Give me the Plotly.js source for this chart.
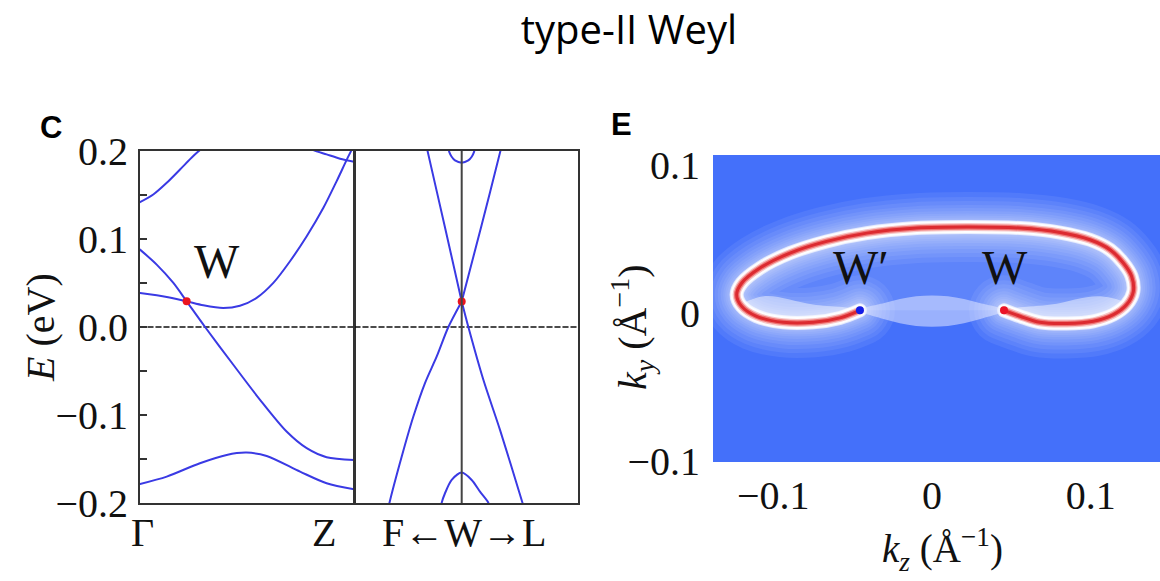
<!DOCTYPE html>
<html><head><meta charset="utf-8">
<script src="https://cdn.plot.ly/plotly-3.0.1.min.js"></script>
<style>html,body{margin:0;padding:0;background:#fff}#chart{width:1160px;height:581px}
#chart .js-line{stroke-linecap:round;stroke-linejoin:round}</style>
</head><body><div id="chart"></div>
<script>
// ---------- Panel C : Γ–Z path (k normalised 0..1), energies in eV ----------
const gzBand1K = [0, 0.062, 0.125, 0.187, 0.249, 0.280, 0.29];
const gzBand1E = [0.1416, 0.1503, 0.1636, 0.1787, 0.1939, 0.2007, 0.203];
const gzBand2K = [0, 0.078, 0.156, 0.218, 0.304, 0.436, 0.561, 0.685, 0.779, 0.872, 1.0];
const gzBand2E = [0.0878, 0.0708, 0.050, 0.0291, 0.0, -0.0428, -0.0826, -0.1186, -0.1375, -0.1477, -0.1508];
const gzBand3K = [0, 0.125, 0.218, 0.296, 0.389, 0.467, 0.545, 0.623, 0.701, 0.779, 0.857, 0.919, 0.989, 1.0];
const gzBand3E = [0.0386, 0.0341, 0.0291, 0.0246, 0.0216, 0.0242, 0.033, 0.050, 0.0746, 0.103, 0.1352, 0.1655, 0.2007, 0.204];
const gzBand4K = [0.79, 0.81, 0.872, 0.935, 1.0];
const gzBand4E = [0.203, 0.2007, 0.1958, 0.1909, 0.1875];
const gzBand5K = [0, 0.125, 0.280, 0.405, 0.498, 0.592, 0.748, 0.872, 1.0];
const gzBand5E = [-0.1781, -0.1697, -0.1545, -0.1451, -0.1425, -0.1463, -0.1641, -0.1773, -0.1841];
// ---------- Panel C : F <- W -> L path (W at 0) ----------
const fwlUpLeftK = [-0.33, -0.322, -0.159, 0];
const fwlUpLeftE = [0.205, 0.2007, 0.1143, 0.029];
const fwlUpRightK = [0, 0.184, 0.365, 0.373];
const fwlUpRightE = [0.029, 0.1143, 0.2007, 0.205];
const fwlLowLeftK = [0, -0.125, -0.234, -0.344, -0.453, -0.562, -0.678, -0.685];
const fwlLowLeftE = [0.029, 0.0, -0.0334, -0.0636, -0.1016, -0.147, -0.2, -0.204];
const fwlLowRightK = [0, 0.0625, 0.203, 0.359, 0.571, 0.58];
const fwlLowRightE = [0.029, 0.0, -0.0599, -0.1167, -0.2, -0.204];
const fwlTopK = [-0.125, -0.116, -0.094, -0.063, 0, 0.062, 0.094, 0.115, 0.124];
const fwlTopE = [0.204, 0.1984, 0.1932, 0.189, 0.1864, 0.189, 0.1932, 0.1984, 0.204];
const fwlBotK = [-0.195, -0.1874, -0.1565, -0.0937, 0, 0.0937, 0.1715, 0.249, 0.258];
const fwlBotE = [-0.205, -0.1993, -0.1886, -0.1735, -0.1652, -0.1735, -0.1868, -0.1993, -0.205];
const weylGZ = {k: [0.218], E: [0.0291]};
const weylFWL = {k: [0], E: [0.029]};
const pathLabels = ['Γ', 'Z', 'F←W→L'];

// ---------- Panel E : Fermi arc (kz, ky in 1/Å) ----------
const arcKz = [0.0454, 0.0555, 0.068, 0.0849, 0.1017, 0.1143, 0.1227, 0.1269, 0.1258, 0.1206, 0.1122, 0.0996, 0.0807, 0.0555, 0.0219, -0.0096, -0.0411, -0.0664, -0.0895, -0.1084, -0.1199, -0.1231, -0.1199, -0.1105, -0.0937, -0.0748, -0.058, -0.0454];
const arcKy = [0.002, -0.002, -0.0061, -0.0069, -0.0054, -0.0009, 0.0059, 0.0148, 0.025, 0.034, 0.043, 0.0497, 0.0546, 0.0576, 0.0583, 0.0576, 0.0542, 0.0486, 0.0407, 0.0306, 0.0205, 0.0126, 0.0047, -0.002, -0.0061, -0.0061, -0.0031, 0.002];
const lobeRKz = [0.0454, 0.0555, 0.068, 0.0849, 0.1017, 0.1143, 0.1227, 0.106, 0.075, 0.0454];
const lobeRKy = [0.002, -0.002, -0.0061, -0.0069, -0.0054, -0.0009, 0.0059, 0.0115, 0.0059, 0.002];
const lobeLKz = [-0.0454, -0.058, -0.0748, -0.0937, -0.1105, -0.1199, -0.106, -0.075, -0.0454];
const lobeLKy = [0.002, -0.0031, -0.0061, -0.0061, -0.002, 0.0047, 0.0115, 0.0059, 0.002];
const lensKz = [-0.0454, -0.03, -0.01, 0.01, 0.03, 0.0454, 0.03, 0.01, -0.01, -0.03, -0.0454];
const lensKy = [0.002, 0.007, 0.0115, 0.0115, 0.007, 0.002, -0.004, -0.0085, -0.0085, -0.004, 0.002];
const weylE = {kz: [-0.0454, 0.0454], ky: [0.002, 0.002], name: ['W′', 'W']};

const W = 1160, H = 581;
const px = x => x / W, py = y => 1 - y / H;
const serif = 'Liberation Serif, Times New Roman, serif';
const bandColor = 'rgb(58,58,228)';
const frame = '#333';

const traces = [];
function band(k, e, xa, ya) {
  traces.push({x: k, y: e, xaxis: xa, yaxis: ya, type: 'scatter', mode: 'lines',
    line: {color: bandColor, width: 2, shape: 'spline', smoothing: 0.8}, hoverinfo: 'skip'});
}
// Fermi level dashed lines
traces.push({x: [0, 1], y: [0, 0], xaxis: 'x', yaxis: 'y', mode: 'lines', line: {color: '#111', width: 1.5, dash: '5px,3px'}});
traces.push({x: [-1, 1.09], y: [0, 0], xaxis: 'x2', yaxis: 'y2', mode: 'lines', line: {color: '#111', width: 1.5, dash: '5px,3px'}});
band(gzBand1K, gzBand1E, 'x', 'y');
band(gzBand2K, gzBand2E, 'x', 'y');
band(gzBand3K, gzBand3E, 'x', 'y');
band(gzBand4K, gzBand4E, 'x', 'y');
band(gzBand5K, gzBand5E, 'x', 'y');
band(fwlUpLeftK, fwlUpLeftE, 'x2', 'y2');
band(fwlUpRightK, fwlUpRightE, 'x2', 'y2');
band(fwlLowLeftK, fwlLowLeftE, 'x2', 'y2');
band(fwlLowRightK, fwlLowRightE, 'x2', 'y2');
band(fwlTopK, fwlTopE, 'x2', 'y2');
band(fwlBotK, fwlBotE, 'x2', 'y2');
traces.push({x: weylGZ.k, y: weylGZ.E, xaxis: 'x', yaxis: 'y', mode: 'markers', marker: {color: 'rgb(235,20,30)', size: 8}});
traces.push({x: weylFWL.k, y: weylFWL.E, xaxis: 'x2', yaxis: 'y2', mode: 'markers', marker: {color: 'rgb(235,20,30)', size: 8}});

// Panel E layers
const arcLine = (w, c, op) => ({x: arcKz, y: arcKy, xaxis: 'x3', yaxis: 'y3', mode: 'lines', opacity: op,
  line: {color: c, width: w, shape: 'spline', smoothing: 1}, hoverinfo: 'skip'});
const fillPoly = (xs, ys, c) => ({x: xs, y: ys, xaxis: 'x3', yaxis: 'y3', mode: 'lines', fill: 'toself',
  fillcolor: c, line: {width: 0, shape: 'spline', smoothing: 1}, hoverinfo: 'skip'});
traces.push(fillPoly(arcKz, arcKy, 'rgba(255,255,255,0.14)'));
[70, 60, 52, 44, 38, 32, 27, 23, 19, 16].forEach(w => traces.push(arcLine(w, '#ffffff', 0.07)));
traces.push(arcLine(14, '#ffffff', 0.7));
traces.push(arcLine(12, '#ffffff', 0.9));
traces.push(fillPoly(lobeRKz, lobeRKy, 'rgba(255,255,255,0.45)'));
traces.push(fillPoly(lobeLKz, lobeLKy, 'rgba(255,255,255,0.45)'));
traces.push(fillPoly(lensKz, lensKy, 'rgba(225,232,255,0.55)'));
traces.push(arcLine(8, 'rgb(248,198,198)', 1));
traces.push(arcLine(5.5, 'rgb(238,115,115)', 1));
traces.push(arcLine(3, 'rgb(220,42,48)', 1));
traces.push({x: weylE.kz, y: weylE.ky, xaxis: 'x3', yaxis: 'y3', mode: 'markers',
  marker: {color: ['rgb(20,30,230)', 'rgb(235,20,40)'], size: 8}});

const tickFont = {family: serif, size: 40, color: '#111'};
const ann = (text, x, y, font, extra) => Object.assign({text: text, xref: 'paper', yref: 'paper',
  x: px(x), y: py(y), xanchor: 'center', yanchor: 'middle', showarrow: false, font: font}, extra || {});
const layout = {
  width: W, height: H, margin: {l: 0, r: 0, t: 0, b: 0}, paper_bgcolor: '#fff', plot_bgcolor: '#fff',
  showlegend: false,
  title: {text: 'type-II Weyl', x: px(629), xanchor: 'center', y: py(30), yanchor: 'middle',
    font: {family: 'Open Sans, Liberation Sans, sans-serif', size: 40, color: '#000'}},
  xaxis: {domain: [px(140), px(354)], range: [0, 1], showgrid: false, zeroline: false, showticklabels: false,
    showline: true, mirror: true, linecolor: frame, linewidth: 2, ticks: ''},
  yaxis: {domain: [py(503.3), py(150.7)], range: [-0.2, 0.2], anchor: 'x', showgrid: false, zeroline: false,
    dtick: 0.1, tickformat: '.1f', ticks: 'inside', ticklen: 7, tickwidth: 1.5, tickcolor: frame,
    minor: {dtick: 0.05, ticks: 'inside', ticklen: 7, tickcolor: frame, tickwidth: 1.5},
    showline: true, mirror: true, linecolor: frame, linewidth: 2, tickfont: tickFont, ticklabelstandoff: 2},
  xaxis2: {domain: [px(355), px(578)], range: [-1, 1.09], anchor: 'y2', showgrid: false, zeroline: false,
    showticklabels: false, showline: true, mirror: true, linecolor: frame, linewidth: 2, ticks: ''},
  yaxis2: {domain: [py(503.3), py(150.7)], range: [-0.2, 0.2], anchor: 'x2', showgrid: false, zeroline: false,
    showticklabels: false, ticks: '', showline: true, mirror: true, linecolor: frame, linewidth: 2},
  xaxis3: {domain: [px(713), 1], range: [-0.138, 0.1437], anchor: 'y3', showgrid: false, zeroline: false,
    dtick: 0.1, ticks: '', showline: false, tickfont: tickFont, ticklabelstandoff: 6},
  yaxis3: {domain: [py(462), py(155)], range: [-0.1005, 0.107], anchor: 'x3', showgrid: false, zeroline: false,
    dtick: 0.1, ticks: '', showline: false, tickfont: tickFont, ticklabelstandoff: 12},
  shapes: [
    {type: 'rect', xref: 'x3 domain', yref: 'y3 domain', x0: 0, x1: 1, y0: 0, y1: 1,
      fillcolor: 'rgb(68,112,250)', line: {width: 0}, layer: 'below'},
    {type: 'line', xref: 'x2', yref: 'y2', x0: 0, x1: 0, y0: -0.2, y1: 0.2, line: {color: '#444', width: 2}}
  ],
  annotations: [
    ann('<b>C</b>', 51, 128, {family: 'Liberation Sans, Arial, sans-serif', size: 31, color: '#000'}),
    ann('<b>E</b>', 621, 125, {family: 'Liberation Sans, Arial, sans-serif', size: 31, color: '#000'}),
    ann('<i>E</i> (eV)', 40, 328, {family: serif, size: 40, color: '#111'}, {textangle: -90}),
    ann(pathLabels[0], 142, 532, tickFont),
    ann(pathLabels[1], 324, 532, tickFont),
    ann(pathLabels[2], 464, 532, tickFont),
    {text: 'W', xref: 'x', yref: 'y', x: 0.361, y: 0.0745, xanchor: 'center', yanchor: 'middle', showarrow: false,
      font: {family: serif, size: 48, color: '#111'}},
    {text: weylE.name[0], xref: 'x3', yref: 'y3', x: -0.045, y: 0.031, xanchor: 'center', yanchor: 'middle', showarrow: false,
      font: {family: serif, size: 48, color: '#111'}},
    {text: weylE.name[1], xref: 'x3', yref: 'y3', x: 0.046, y: 0.031, xanchor: 'center', yanchor: 'middle', showarrow: false,
      font: {family: serif, size: 48, color: '#111'}},
    ann('<i>k</i><sub><i>y</i></sub> (Å<sup>−1</sup>)', 632, 327, {family: serif, size: 40, color: '#111'}, {textangle: -90}),
    ann('<i>k</i><sub><i>z</i></sub> (Å<sup>−1</sup>)', 942, 549, {family: serif, size: 39, color: '#111'})
  ]
};
Plotly.newPlot('chart', traces, layout, {displayModeBar: false, staticPlot: true});
</script></body></html>
